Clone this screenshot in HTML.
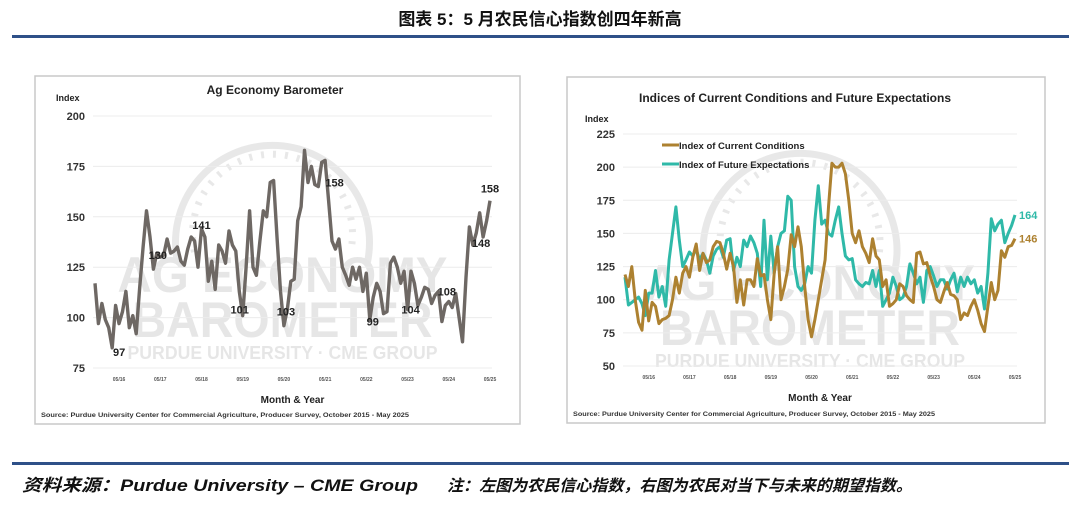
<!DOCTYPE html>
<html><head><meta charset="utf-8"><style>
html,body{margin:0;padding:0;background:#fff;}
svg{display:block;}
text{font-family:"Liberation Sans","Noto Sans CJK SC",sans-serif;}
</style></head><body>
<svg id="page" width="1080" height="515" viewBox="0 0 1080 515" xmlns="http://www.w3.org/2000/svg">
<text x="540" y="25" text-anchor="middle" font-size="17" font-weight="bold" fill="#111">图表 5：5 月农民信心指数创四年新高</text>
<rect x="12" y="35" width="1057" height="3" fill="#2e5088"/>
<rect x="12" y="462" width="1057" height="3" fill="#2e5088"/>
<text x="22" y="491" font-size="17" font-weight="bold" font-style="italic" fill="#111" textLength="396" lengthAdjust="spacingAndGlyphs">资料来源：Purdue University – CME Group</text>
<text x="447" y="491" font-size="16" font-weight="bold" font-style="italic" fill="#111" textLength="465" lengthAdjust="spacingAndGlyphs">注：左图为农民信心指数，右图为农民对当下与未来的期望指数。</text>

<g id="left"></g>
<g id="right"></g>
</svg>
<script>
const monthTicks = ["05/16","05/17","05/18","05/19","05/20","05/21","05/22","05/23","05/24","05/25"];
const leftYTicks = [75,100,125,150,175,200];
const rightYTicks = [50,75,100,125,150,175,200,225];
const barometer = [117,97,107,99,95,85,106,97,103,113,
95,101,92,115,135,153,140,124,132,130,
131,139,132,133,135,128,126,134,140,138,
125,144,140,118,128,114,136,133,127,143,
136,133,113,101,125,153,125,121,138,153,
150,167,168,140,113,96,104,118,119,148,
155,183,167,175,166,165,177,178,158,138,
134,139,125,121,116,125,119,125,113,122,
99,110,117,113,102,103,127,130,125,117,
123,104,123,117,106,110,115,114,107,111,
113,98,106,108,105,112,100,88,120,145,
136,142,152,140,148,158];
const currentCond = [119,110,125,100,83,77,107,84,98,95,
82,85,86,88,100,117,105,120,125,117,
132,142,122,135,128,130,140,144,143,135,
123,135,125,98,115,96,115,115,110,131,
118,119,100,85,120,140,100,110,123,149,
140,155,140,110,85,72,85,100,115,130,
170,203,200,200,203,195,175,150,143,152,
140,135,128,146,133,130,110,115,95,97,
100,112,110,103,100,98,135,136,127,128,
118,110,100,98,106,113,104,103,100,85,
90,88,95,100,92,82,76,95,113,100,
107,137,132,140,141,146];
const futureExp = [117,96,98,100,102,97,88,105,105,122,
102,110,95,130,150,170,145,125,130,136,
133,138,130,135,130,120,133,138,140,132,
145,146,122,132,125,145,140,148,143,135,
110,160,115,148,120,140,150,152,178,175,
125,110,107,112,125,120,160,186,157,160,
150,148,160,170,150,133,130,131,115,112,
110,113,112,122,110,122,95,100,105,117,
110,100,102,110,127,120,112,117,98,122,
125,118,110,115,115,108,115,120,106,117,
110,117,112,115,105,110,93,120,161,152,
157,160,143,150,156,164];
const leftLabels = [[5,"97"],[18,"130"],[31,"141"],[43,"101"],[55,"103"],[68,"158"],[80,"99"],[91,"104"],[103,"108"],[113,"148"],[115,"158"]];

const NS="http://www.w3.org/2000/svg";
function mk(parent,tag,attrs,txt){const e=document.createElementNS(NS,tag);for(const k in attrs)e.setAttribute(k,attrs[k]);if(txt!==undefined)e.textContent=txt;parent.appendChild(e);return e;}

function drawChart(g,cfg){
  const box=mk(g,'rect',{x:cfg.bx,y:cfg.by,width:cfg.bw,height:cfg.bh,fill:'#fff',stroke:'#c8c8c8','stroke-width':1.5});
  
  
  const xs=i=>cfg.x0+(i)*(cfg.x1-cfg.x0)/115;
  const ys=v=>cfg.yb+(v-cfg.ymin)*(cfg.yt-cfg.yb)/(cfg.ymax-cfg.ymin);
  const wm=mk(g,'g',{opacity:0.38});
  
  
  const cx=(cfg.x0+cfg.x1)/2-20, cy=cfg.yt+ (cfg.yb-cfg.yt)*0.5;
  mk(wm,'path',{d:`M ${cx-95} ${cy+20} A 97 97 0 1 1 ${cx+95} ${cy+20}`,fill:'none',stroke:'#c4c4c4','stroke-width':7});
  mk(wm,'path',{d:`M ${cx-78} ${cy+10} A 80 80 0 1 1 ${cx+78} ${cy+10}`,fill:'none',stroke:'#c4c4c4','stroke-width':7,'stroke-dasharray':'3 9'});
  mk(wm,'text',{x:cx+10,y:cy+50,'text-anchor':'middle','font-size':50,'font-weight':'bold',fill:'#c0c0c0',textLength:330,lengthAdjust:'spacingAndGlyphs'},'AG ECONOMY');
  mk(wm,'text',{x:cx+10,y:cy+95,'text-anchor':'middle','font-size':50,'font-weight':'bold',fill:'#c0c0c0',textLength:300,lengthAdjust:'spacingAndGlyphs'},'BAROMETER');
  mk(wm,'text',{x:cx+10,y:cy+117,'text-anchor':'middle','font-size':18,'font-weight':'bold',fill:'#c0c0c0',textLength:310,lengthAdjust:'spacingAndGlyphs'},'PURDUE UNIVERSITY  ·  CME GROUP');
  cfg.yticks.forEach(v=>{
    const l=mk(g,'line',{x1:cfg.x0-2,x2:cfg.x1+2,y1:ys(v),y2:ys(v),stroke:'#ececec','stroke-width':1});
    
    
    const t=mk(g,'text',{x:cfg.x0-10,y:ys(v)+4,'text-anchor':'end','font-size':11,'font-weight':'bold',fill:'#333'},String(v));
    
    
  });
  monthTicks.forEach((m,k)=>{
    const t=mk(g,'text',{x:xs(7+12*k),y:cfg.yb+13,'text-anchor':'middle','font-size':5,'font-weight':'bold',fill:'#555'},m);
    
    
  });
  const tt=mk(g,'text',{x:cfg.tx,y:cfg.ty,'text-anchor':'middle','font-size':12,'font-weight':'bold',fill:'#222'},cfg.title);
  
  
  const yl=mk(g,'text',{x:cfg.yx,y:cfg.yy,'font-size':9,'font-weight':'bold',fill:'#222'},'Index');
  
  
  const xl=mk(g,'text',{x:(cfg.x0+cfg.x1)/2,y:cfg.yb+35,'text-anchor':'middle','font-size':10,'font-weight':'bold',fill:'#222'},'Month & Year');
  
  
  const src=mk(g,'text',{x:cfg.bx+6,y:cfg.by+cfg.bh-7,'font-size':6.2,'font-weight':'bold',fill:'#333',textLength:cfg.srcw,lengthAdjust:'spacingAndGlyphs'},'Source: Purdue University Center for Commercial Agriculture, Producer Survey, October 2015 - May 2025');
  
  
  cfg.series.forEach(s=>{
    const p=mk(g,'polyline',{points:s.data.map((v,i)=>xs(i).toFixed(1)+','+ys(v).toFixed(1)).join(' '),fill:'none',stroke:s.color,'stroke-width':s.w,'stroke-linejoin':'round'});
    
    
  });
  return {xs,ys};
}

const L=drawChart(document.getElementById('left'),{bx:35,by:76,bw:485,bh:348,x0:95,x1:490,yt:116,yb:368,ymin:75,ymax:200,yticks:leftYTicks,
  title:'Ag Economy Barometer',tx:275,ty:94,yx:56,yy:101,srcw:368,
  series:[{data:barometer,color:'#6e6864',w:3.4,name:'barometer-line'}]});
const lg=document.getElementById('left');
leftLabels.forEach(([i,s])=>{
  let dy=-6, dx=0;
  if(s==="97"){dy=8;dx=7;} if(s==="101"){dy=-2;dx=-3;} if(s==="103"){dy=-10;dx=2;} if(s==="99"){dy=6;dx=3;}
  if(s==="104"){dy=4;dx=3;} if(s==="108"){dy=-6;dx=-2;} if(s==="148"){dy=10;dx=-2;} if(s==="130"){dy=6;dx=1;} if(s==="141"){dy=0;dx=0;}
  if(s==="158"&&i===68){dy=-14;dx=6;} if(s==="158"&&i===115){dy=-8;dx=0;}
  const t=mk(lg,'text',{x:L.xs(i)+dx,y:L.ys(barometer[i])+dy,'text-anchor':'middle','font-size':11,'font-weight':'bold',fill:'#222'},s);
  
  
});

const R=drawChart(document.getElementById('right'),{bx:567,by:77,bw:478,bh:346,x0:625,x1:1015,yt:134,yb:366,ymin:50,ymax:225,yticks:rightYTicks,
  title:'Indices of Current Conditions and Future Expectations',tx:795,ty:102,yx:585,yy:122,srcw:362,
  series:[{data:futureExp,color:'#2fb9a8',w:3,name:'future-expectations-line'},{data:currentCond,color:'#ad8130',w:3,name:'current-conditions-line'}]});
const rg=document.getElementById('right');
[[145,'#ad8130','Index of Current Conditions','legend-current-conditions'],[164,'#2fb9a8','Index of Future Expectations','legend-future-expectations']].forEach(([y,c,s,n])=>{
  const g=mk(rg,'g',{});
  
  
  mk(g,'line',{x1:662,x2:679,y1:y,y2:y,stroke:c,'stroke-width':3});
  mk(g,'text',{x:679,y:y+4,'font-size':9.5,'font-weight':'bold',fill:'#222'},s);
});
const t1=mk(rg,'text',{x:R.xs(115)+4,y:R.ys(futureExp[115])+4,'font-size':11,'font-weight':'bold',fill:'#2fb9a8'},String(futureExp[115]));


const t2=mk(rg,'text',{x:R.xs(115)+4,y:R.ys(currentCond[115])+4,'font-size':11,'font-weight':'bold',fill:'#ad8130'},String(currentCond[115]));


</script>
</body></html>
